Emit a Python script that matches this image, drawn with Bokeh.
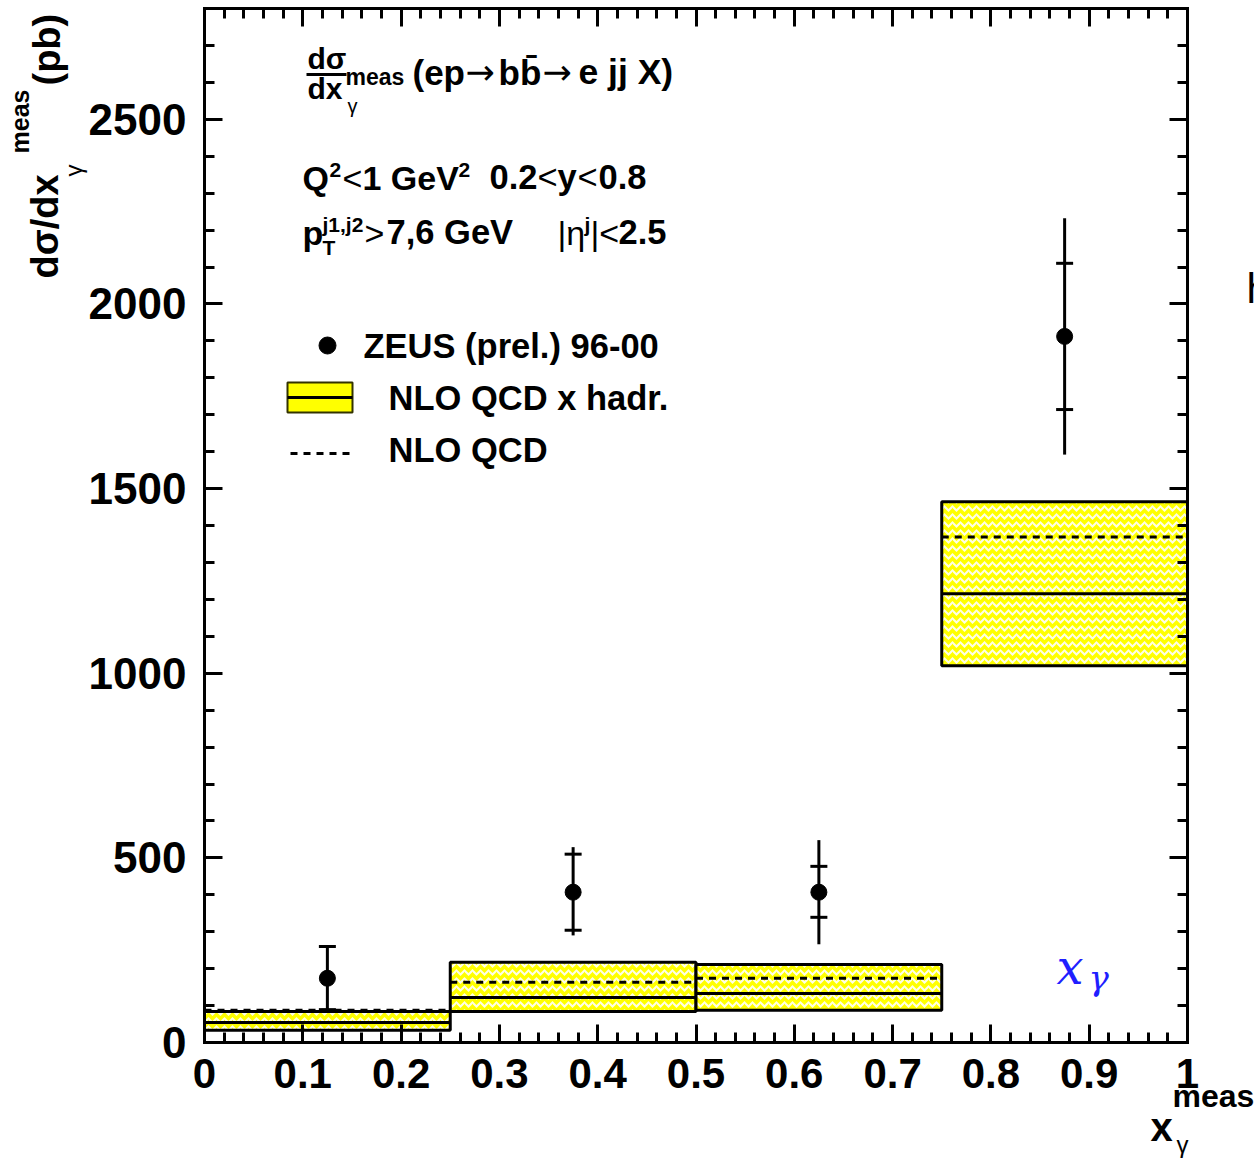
import numpy as np
from math import pi
from bokeh.plotting import figure
from bokeh.models import LinearAxis, FixedTicker, Label, PrintfTickFormatter, Range1d
from bokeh.embed import file_html
from bokeh.resources import INLINE

# ---------------- data ----------------
bin_lo = [0.0, 0.25, 0.5, 0.75]
bin_hi = [0.25, 0.5, 0.75, 1.0]
x_mid = [0.125, 0.375, 0.625, 0.875]

zeus = [174, 407, 407, 1912]
stat_up = [260, 510, 477, 2110]
stat_dn = [89, 304, 339, 1714]
tot_up = [260, 529, 548, 2232]
tot_dn = [89, 290, 266, 1592]

nlo_had = [54, 122, 133, 1215]
nlo_had_up = [84, 217, 211, 1464]
nlo_had_dn = [33, 84, 87, 1020]
nlo = [87, 163, 174, 1369]

x_ticks = [0, 0.1, 0.2, 0.3, 0.4, 0.5, 0.6, 0.7, 0.8, 0.9, 1]
x_tick_labels = ["0", "0.1", "0.2", "0.3", "0.4", "0.5", "0.6", "0.7", "0.8", "0.9", "1"]
y_ticks = [0, 500, 1000, 1500, 2000, 2500]
y_tick_labels = ["0", "500", "1000", "1500", "2000", "2500"]

# ---------------- layout ----------------
W, H = 1254, 1159
FL, FR, FT, FB = 204, 1187, 8, 1042          # pixel box of the plotting area
XMIN, XMAX, YMIN, YMAX = 0.0, 1.0, 0.0, 2800.0


def X(px):
    return XMIN + (px - FL) / (FR - FL) * (XMAX - XMIN)


def Y(py):
    return YMIN + (FB - py) / (FB - FT) * (YMAX - YMIN)


FONT = "Liberation Sans"

# the canvas is one big frame; the axes are pinned at the data box edges
p = figure(width=W, height=H, x_range=Range1d(X(0), X(W)), y_range=Range1d(Y(H), Y(0)),
           output_backend="svg", toolbar_location=None, title=None,
           x_axis_location=None, y_axis_location=None, min_border=0)
p.xgrid.visible = False
p.ygrid.visible = False
p.outline_line_color = None
p.background_fill_color = "white"
p.border_fill_color = "white"

x_minor = [round(v, 4) for v in np.arange(0, 1.0001, 0.02)]
y_minor = list(range(0, 2801, 100))


def make_axis(ticks, minor, labels, show, loc, bounds, size="42px", standoff=10):
    ax = LinearAxis(fixed_location=loc, bounds=bounds)
    ax.ticker = FixedTicker(ticks=ticks, minor_ticks=minor)
    ax.formatter = PrintfTickFormatter(format="%g")
    ax.major_label_overrides = {t: l for t, l in zip(ticks, labels)}
    ax.axis_line_width = 3
    ax.axis_line_color = "black"
    ax.axis_line_cap = "square"
    ax.major_tick_in = 18
    ax.major_tick_out = 0
    ax.minor_tick_in = 10
    ax.minor_tick_out = 0
    ax.major_tick_line_width = 3
    ax.minor_tick_line_width = 3
    ax.major_tick_line_color = "black"
    ax.minor_tick_line_color = "black"
    ax.major_label_text_font = FONT
    ax.major_label_text_font_style = "bold"
    ax.major_label_text_font_size = size
    ax.major_label_standoff = standoff
    ax.major_label_text_color = "black" if show else None
    return ax


p.add_layout(make_axis(x_ticks, x_minor, x_tick_labels, True, YMIN, (XMIN, XMAX),
                       size="42px", standoff=16), "below")
p.add_layout(make_axis(x_ticks, x_minor, x_tick_labels, False, YMAX, (XMIN, XMAX)), "above")
p.add_layout(make_axis(y_ticks, y_minor, y_tick_labels, True, XMIN, (YMIN, YMAX),
                       size="44px", standoff=18), "left")
p.add_layout(make_axis(y_ticks, y_minor, y_tick_labels, False, XMAX, (YMIN, YMAX)), "right")

# ---------------- theory bands ----------------
p.quad(left=bin_lo, right=bin_hi, bottom=nlo_had_dn, top=nlo_had_up,
       fill_color="#ffff00", fill_alpha=1.0,
       hatch_pattern="horizontal_wave", hatch_color="white",
       hatch_scale=8, hatch_weight=2, hatch_alpha=0.9,
       line_color="black", line_width=3)
p.segment(x0=bin_lo, x1=bin_hi, y0=nlo_had, y1=nlo_had,
          line_color="black", line_width=3)
p.segment(x0=bin_lo, x1=bin_hi, y0=nlo, y1=nlo,
          line_color="black", line_width=3, line_dash="7 6")

# ---------------- data points ----------------
p.segment(x0=x_mid, x1=x_mid, y0=tot_dn, y1=tot_up, line_color="black", line_width=3)
p.scatter(x=x_mid, y=stat_up, marker="dash", size=17, line_color="black", line_width=3)
p.scatter(x=x_mid, y=stat_dn, marker="dash", size=17, line_color="black", line_width=3)
p.scatter(x=x_mid, y=zeus, marker="circle", size=16, fill_color="black", line_color="black")

# ---------------- legend (hand-built, like the original) ----------------
p.scatter(x=[X(327)], y=[Y(345)], marker="circle", size=17, fill_color="black", line_color="black")
p.quad(left=[X(287)], right=[X(352)], bottom=[Y(412)], top=[Y(382)],
       fill_color="#ffff00", line_color="#333300", line_width=2)
p.segment(x0=[X(287)], x1=[X(352)], y0=[Y(397)], y1=[Y(397)], line_color="black", line_width=3)
p.segment(x0=[X(290)], x1=[X(352)], y0=[Y(453)], y1=[Y(453)],
          line_color="black", line_width=3, line_dash="7 6")
# fraction bar of the title
p.segment(x0=[X(306)], x1=[X(346)], y0=[Y(74)], y1=[Y(74)], line_color="black", line_width=3)


def _style(bold, italic):
    if bold and italic:
        return "bold italic"
    if bold:
        return "bold"
    if italic:
        return "italic"
    return "normal"


def txt(text, px, base, size, bold=True, font=FONT, color="black", italic=False):
    """horizontal text: px = left edge, base = baseline (pixels)"""
    p.add_layout(Label(x=X(px), y=Y(base - 0.35 * size), text=text, text_font=font,
                       text_font_size=f"{size}px", text_font_style=_style(bold, italic),
                       text_color=color, text_align="left", text_baseline="middle"))


def vtxt(text, base_x, start_y, size, bold=True, font=FONT):
    """text rotated 90 deg: base_x = baseline column, start_y = lower end (pixels)"""
    p.add_layout(Label(x=X(base_x - 0.35 * size), y=Y(start_y), text=text, text_font=font,
                       text_font_size=f"{size}px", text_font_style=_style(bold, False),
                       text_color="black", text_align="left", text_baseline="middle",
                       angle=pi / 2))


# title block
txt("dσ", 307, 68, 30)
txt("dx", 307, 98, 30)
txt("meas", 345, 85, 23)
txt("γ", 347, 112, 20, bold=False)
txt("(ep", 412, 84, 35)
txt("→", 465, 84, 35, bold=False, font="DejaVu Sans")
txt("bb̄", 498, 84, 35)
txt("→", 542, 84, 35, bold=False, font="DejaVu Sans")
txt("e jj X)", 578, 84, 35.5)

# Q line
txt("Q", 302, 189, 34)
txt("2", 329, 177, 21)
txt("<", 342, 189, 34, bold=False)
txt("1 GeV", 362, 189, 34)
txt("2", 458, 177, 21)
txt("0.2", 489, 189, 34.5)
txt("<", 537, 189, 34.5, bold=False)
txt("y", 557, 189, 34.5)
txt("<", 577, 189, 34.5, bold=False)
txt("0.8", 598, 189, 34.5)

# pT line
txt("p", 302, 244, 34)
txt("j1,j2", 322, 231, 21)
txt("T", 322, 254, 21)
txt(">", 364, 244, 34, bold=False)
txt("7,6 GeV", 386, 244, 34.5)
txt("|η", 557, 244, 34, bold=False)
txt("j", 584, 231, 21)
txt("|<", 590, 244, 34, bold=False)
txt("2.5", 618, 244, 34.5)

# legend labels
txt("ZEUS (prel.) 96-00", 363, 358, 34.5)
txt("NLO QCD x hadr.", 388, 410, 34.5)
txt("NLO QCD", 388, 462, 34.5)

# y axis title (rotated)
vtxt("dσ/dx", 58, 278, 38)
vtxt("γ", 81, 176, 24, bold=False)
vtxt("meas", 28, 153, 25)
vtxt("(pb)", 60, 85, 38)

# x axis title
txt("meas", 1172, 1107, 32)
txt("x", 1150, 1140, 40)
txt("γ", 1176, 1152, 24, bold=False)

# blue math label
txt("x", 1056, 983, 48, bold=False, italic=True, font="DejaVu Serif", color="#1f1fff")
txt("γ", 1088, 989, 34, bold=False, italic=True, font="DejaVu Serif", color="#1f1fff")

# clipped letter at the right page edge
txt("h", 1246, 303, 42, bold=False)

open("out.html", "w").write(file_html(p, INLINE))
